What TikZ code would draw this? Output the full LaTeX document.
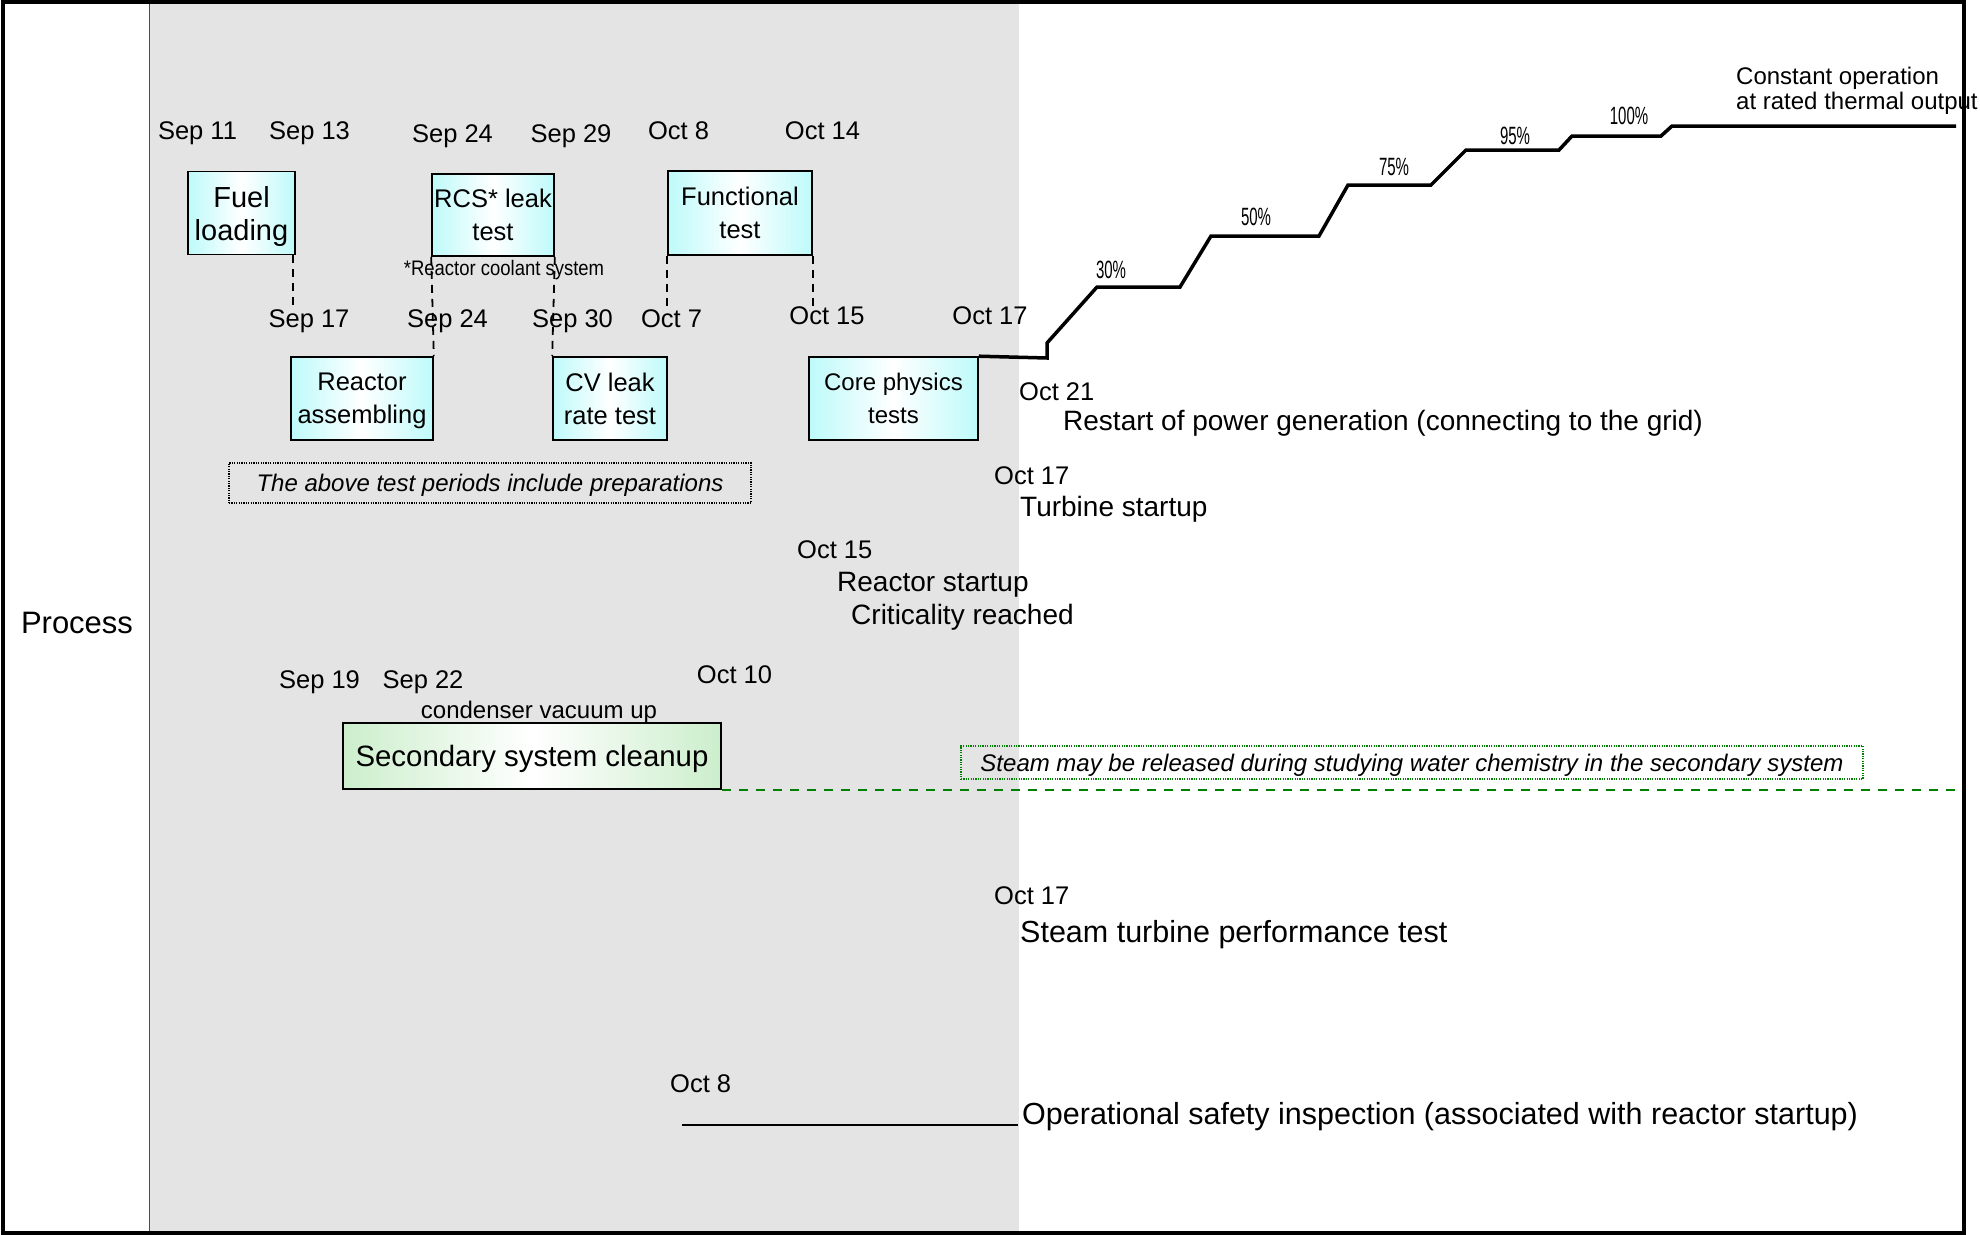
\documentclass[tikz,border=0pt]{standalone}
\usepackage{fontspec}
\setmainfont{Liberation Sans}
\newfontfamily\pctfont[FakeStretch=0.6]{Liberation Sans}
\newfontfamily\notefont[FakeStretch=0.88]{Liberation Sans}
\usetikzlibrary{positioning,calc}
\definecolor{panelgray}{RGB}{228,228,228}
\definecolor{boxcyan}{RGB}{190,250,250}
\definecolor{boxgreen}{RGB}{204,238,204}
\definecolor{steamgreen}{RGB}{0,128,0}
\tikzset{
  taskbox/.style={draw,line width=1.6pt,inner sep=0pt,align=center,text depth=0pt,
    left color=boxcyan,right color=boxcyan,middle color=white,
    font=\fontsize{25.5}{33}\selectfont},
  datelbl/.style={inner sep=0pt,text height=18.3pt,text depth=0pt,
    font=\fontsize{25.5}{30}\selectfont},
  eventlbl/.style={inner sep=0pt,anchor=west,text height=20pt,text depth=0pt,
    font=\fontsize{28}{33}\selectfont},
  bigevent/.style={eventlbl,text height=21.8pt,font=\fontsize{30.5}{36}\selectfont},
  notebox/.style={draw,line width=1.2pt,dash pattern=on 1.2pt off 1.2pt,inner sep=0pt,
    text height=17.2pt,text depth=0pt,font=\fontsize{24}{28}\selectfont\itshape},
  pctlbl/.style={inner sep=0pt,font=\fontsize{25}{28}\pctfont},
  dashlink/.style={line width=1.8pt,dash pattern=on 8pt off 6pt},
  powerline/.style={line width=3.5pt,line join=miter},
  steamline/.style={steamgreen,line width=2.2pt,dash pattern=on 9pt off 8pt}
}
\begin{document}
\begin{tikzpicture}[x=1pt,y=-1pt]
  \useasboundingbox (0,0) rectangle (1980,1234);
  \fill[panelgray] (149,0) rectangle (1019,1234);
  \draw[gray!60!black,line width=1pt] (149,2) -- (149,1232);
  \node[inner sep=0pt,font=\fontsize{31}{36}\selectfont] (proc) at (77,623) {Process};

  % upper row of tests
  \node[datelbl] (s11) at (197.5,130) {Sep 11};
  \node[datelbl] (s13) at (309.5,130) {Sep 13};
  \node[datelbl] (s24a) at (452.5,133) {Sep 24};
  \node[datelbl] (s29) at (571,133) {Sep 29};
  \node[datelbl] (o8a) at (678.5,130) {Oct 8};
  \node[datelbl] (o14) at (822.5,130) {Oct 14};
  \node[taskbox,font=\fontsize{29}{33}\selectfont,minimum width=107pt,minimum height=83pt] (fuel) at (241.5,213) {Fuel\\loading};
  \node[taskbox,minimum width=122pt,minimum height=82pt] (rcs) at (493,215) {RCS* leak\\test};
  \node[taskbox,minimum width=144pt,minimum height=84pt] (func) at (740,213) {Functional\\test};
  \node[inner sep=0pt,text height=15pt,text depth=0pt,font=\fontsize{21}{24}\notefont] (rcsnote) at (504,268) {*Reactor coolant system};

  % lower row of tests
  \node[datelbl] (s17) at (309,318) {Sep 17};
  \node[datelbl] (s24b) at (447.5,318) {Sep 24};
  \node[datelbl] (s30) at (572.5,318) {Sep 30};
  \node[datelbl] (o7) at (671.5,318) {Oct 7};
  \node[datelbl] (o15a) at (827,315) {Oct 15};
  \node[datelbl] (o17a) at (990,315) {Oct 17};
  \node[taskbox,minimum width=142pt,minimum height=83pt] (asm) at (362,398.5) {Reactor\\assembling};
  \node[taskbox,minimum width=114pt,minimum height=83pt] (cv) at (610,398.5) {CV leak\\rate test};
  \node[taskbox,font=\fontsize{24}{33}\selectfont,minimum width=169pt,minimum height=83pt] (core) at (893.5,398.5) {Core physics\\tests};

  \draw[dashlink] ([xshift=-3pt]fuel.south east) -- ([xshift=-3pt]fuel.south east |- s17.north);
  \draw[dashlink] (rcs.south west) -- (asm.north east);
  \draw[dashlink] (rcs.south east) -- (cv.north west);
  \draw[dashlink] (func.south west) -- (func.south west |- o7.north);
  \draw[dashlink] (func.south east) -- (func.south east |- o15a.north);

  \node[notebox,minimum width=522pt,minimum height=40pt] (prep) at (490,483) {The above test periods include preparations};

  % power ascension
  \coordinate (fullpower) at (1956,126);
  \draw[powerline] (core.north east) -- (1047,358) -- (1047,343) -- (1097,287) -- (1180,287)
    -- (1211,236) -- (1319,236) -- (1348,185) -- (1431,185) -- (1466,150) -- (1559,150)
    -- (1572,136) -- (1661,136) -- (1672,126) -- (fullpower);
  \foreach \px/\py/\pct in {1111/270/30,1256/217/50,1394/167/75,1515/136/95,1629/116/100}
    \node[pctlbl] (p\pct) at (\px,\py) {\pct\%};
  \node[inner sep=0pt,anchor=west,align=left,font=\fontsize{24}{25}\selectfont] (const) at (1736,91) {Constant operation\\at rated thermal output};

  % milestones
  \node[datelbl,anchor=west] (o21) at (1019,391) {Oct 21};
  \node[eventlbl] (grid) at (1063,420) {Restart of power generation (connecting to the grid)};
  \node[datelbl,anchor=west] (o17b) at (994,475) {Oct 17};
  \node[eventlbl] (turb) at (1020,506) {Turbine startup};
  \node[datelbl,anchor=west] (o15b) at (797,549) {Oct 15};
  \node[eventlbl] (rstart) at (837,581) {Reactor startup};
  \node[eventlbl] (crit) at (851,614) {Criticality reached};

  % secondary system
  \node[datelbl] (s19) at (319.5,679) {Sep 19};
  \node[datelbl] (s22) at (423,679) {Sep 22};
  \node[datelbl] (o10) at (734.5,674) {Oct 10};
  \node[inner sep=0pt,text height=17.2pt,text depth=0pt,font=\fontsize{24}{28}\selectfont] (vac) at (539,710) {condenser vacuum up};
  \node[draw,line width=1.5pt,inner sep=0pt,left color=boxgreen,right color=boxgreen,middle color=white,
    text height=21pt,text depth=0pt,font=\fontsize{29.4}{34}\selectfont,minimum width=378pt,minimum height=66pt] (sec) at (532,756) {Secondary system cleanup};
  \node[notebox,draw=steamgreen,minimum width=902pt,minimum height=33pt] (steam) at (1412,762.5) {Steam may be released during studying water chemistry in the secondary system};
  \coordinate (frameR) at (1964,0);
  \draw[steamline] (sec.south east) -- (sec.south east -| frameR);

  \node[datelbl,anchor=west] (o17c) at (994,895) {Oct 17};
  \node[bigevent] (perf) at (1020,932) {Steam turbine performance test};

  \node[datelbl,anchor=west] (o8b) at (670,1083) {Oct 8};
  \node[bigevent] (insp) at (1022,1114) {Operational safety inspection (associated with reactor startup)};
  \coordinate (inspstart) at (682,1125);
  \draw[line width=2.5pt] (inspstart) -- ([xshift=-4pt]insp.west |- inspstart);

  \draw[line width=4pt] (2.5,2) rectangle (1964,1233);
\end{tikzpicture}
\end{document}
